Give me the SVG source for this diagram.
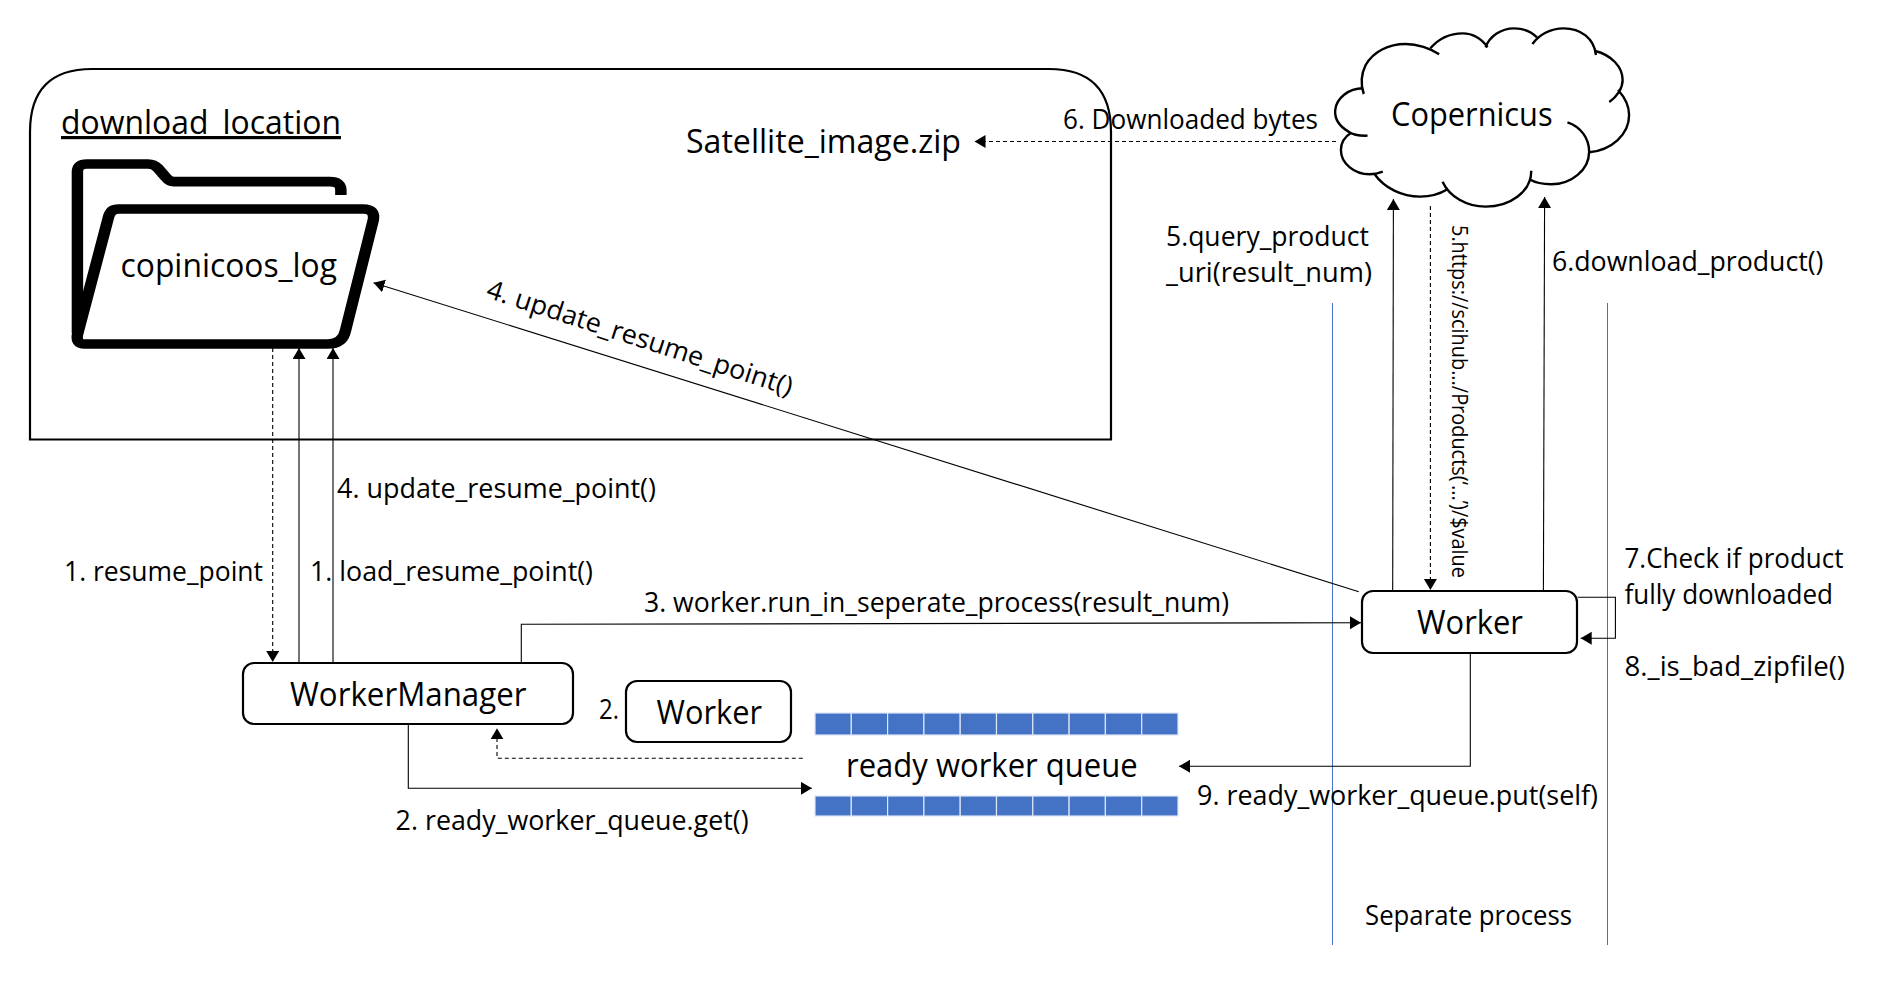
<svg xmlns="http://www.w3.org/2000/svg" width="1877" height="982" viewBox="0 0 1877 982">
<style>
text{font-family:"Open Sans","Liberation Sans",sans-serif;fill:#000;font-variant-ligatures:none}
.b{font-size:32px}
.m{font-size:26.5px}
.l{fill:none;stroke:#000;stroke-width:1.1}
.a{marker-end:url(#ah)}
.d{stroke-dasharray:4 3}
.box{fill:#fff;stroke:#000;stroke-width:2.2}
.v{fill:none;stroke:#4472C4;stroke-width:1}
.c{fill:#4472C4;stroke:#DCE6F5;stroke-width:1.2}
</style>
<defs>
<marker id="ah" markerUnits="userSpaceOnUse" markerWidth="12" markerHeight="14" refX="11" refY="6.5" orient="auto"><path d="M0,0L11,6.5L0,13z" fill="#000"/></marker>
</defs>
<rect width="1877" height="982" fill="#fff"/>
<g id="download_location">
<path d="M30,439.5V132Q30,69 92,69H1049Q1111,69 1111,132V439.5Z" fill="none" stroke="#000" stroke-width="2.2"/>
<text class="b" x="61" y="134" textLength="280" lengthAdjust="spacingAndGlyphs" text-decoration="underline">download_location</text>
<text class="b" x="686" y="153" textLength="275" lengthAdjust="spacingAndGlyphs">Satellite_image.zip</text>
</g>
<g id="copinicoos_log">
<g transform="translate(0,40) scale(0.395,0.3333)" fill="none" stroke="#000" stroke-width="29" stroke-linejoin="round">
<path d="M196,880V395Q196,372 220,372H375Q390,372 400,385L420,412Q428,425 440,425H835Q863,425 863,450V465"/>
<path d="M300,507H920Q950,507 945,540L875,870Q868,912 830,912H215Q190,912 197,880L275,530Q280,507 300,507Z"/>
<path d="M196,740V880L215,800Z" fill="#000" stroke="none"/>
</g>
<text class="b" x="120.5" y="277" textLength="216.5" lengthAdjust="spacingAndGlyphs">copinicoos_log</text>
</g>
<g id="copernicus">
<g transform="translate(1280,0) scale(0.3807,0.3333)" fill="none" stroke="#000" stroke-width="2.4">
<path vector-effect="non-scaling-stroke" d="M230,407C205,408 190,403 180,395C155,378 143,355 145,330C148,295 180,265 218,265"/>
<path vector-effect="non-scaling-stroke" d="M220,282C212,255 212,225 225,195C245,155 285,132 330,132C360,132 395,145 418,163"/>
<path vector-effect="non-scaling-stroke" d="M395,145C415,118 445,100 480,100C505,100 530,115 545,142"/>
<path vector-effect="non-scaling-stroke" d="M540,142C550,110 580,85 615,85C640,85 660,95 675,112"/>
<path vector-effect="non-scaling-stroke" d="M663,132C680,105 710,85 745,85C790,85 825,115 830,165"/>
<path vector-effect="non-scaling-stroke" d="M828,153C870,165 900,200 900,240C900,265 885,290 865,306"/>
<path vector-effect="non-scaling-stroke" d="M888,270C908,295 917,320 917,345C917,405 870,450 812,457"/>
<path vector-effect="non-scaling-stroke" d="M755,367C790,380 812,415 812,455C812,510 765,553 712,553C690,553 670,548 655,538"/>
<path vector-effect="non-scaling-stroke" d="M660,512C660,575 605,620 540,620C490,620 445,590 427,545"/>
<path vector-effect="non-scaling-stroke" d="M440,568C420,582 395,590 368,590C320,590 275,565 248,522"/>
<path vector-effect="non-scaling-stroke" d="M270,515C255,522 245,523 235,523C195,523 160,490 160,450C160,430 170,410 187,398"/>
</g>
<text class="b" x="1391" y="126" textLength="161.6" lengthAdjust="spacingAndGlyphs">Copernicus</text>
</g>
<g id="worker_manager">
<rect class="box" x="243" y="663" width="330" height="61" rx="11"/>
<text class="b" x="290" y="706" textLength="236.5" lengthAdjust="spacingAndGlyphs">WorkerManager</text>
</g>
<g id="worker_small">
<rect class="box" x="626" y="681" width="165" height="61" rx="11"/>
<text class="b" x="656.5" y="724" textLength="105.5" lengthAdjust="spacingAndGlyphs">Worker</text>
</g>
<g id="worker_process">
<rect class="box" x="1362" y="591" width="215" height="62" rx="11"/>
<text class="b" x="1417" y="634" textLength="106" lengthAdjust="spacingAndGlyphs">Worker</text>
</g>
<g id="ready_worker_queue">
<g id="queue_top">
<rect class="c" x="815" y="713" width="36.3" height="22"/><rect class="c" x="851.3" y="713" width="36.3" height="22"/><rect class="c" x="887.6" y="713" width="36.3" height="22"/><rect class="c" x="923.9" y="713" width="36.3" height="22"/><rect class="c" x="960.2" y="713" width="36.3" height="22"/><rect class="c" x="996.5" y="713" width="36.3" height="22"/><rect class="c" x="1032.8" y="713" width="36.3" height="22"/><rect class="c" x="1069.1" y="713" width="36.3" height="22"/><rect class="c" x="1105.4" y="713" width="36.3" height="22"/><rect class="c" x="1141.7" y="713" width="36.3" height="22"/>
</g>
<g id="queue_bottom">
<rect class="c" x="815" y="796" width="36.3" height="20"/><rect class="c" x="851.3" y="796" width="36.3" height="20"/><rect class="c" x="887.6" y="796" width="36.3" height="20"/><rect class="c" x="923.9" y="796" width="36.3" height="20"/><rect class="c" x="960.2" y="796" width="36.3" height="20"/><rect class="c" x="996.5" y="796" width="36.3" height="20"/><rect class="c" x="1032.8" y="796" width="36.3" height="20"/><rect class="c" x="1069.1" y="796" width="36.3" height="20"/><rect class="c" x="1105.4" y="796" width="36.3" height="20"/><rect class="c" x="1141.7" y="796" width="36.3" height="20"/>
</g>
<text class="b" x="846" y="776.5" textLength="291.7" lengthAdjust="spacingAndGlyphs">ready worker queue</text>
</g>
<g id="process_bounds">
<path class="v" d="M1332.5,303V945"/>
<path class="v" d="M1607.5,303V945"/>
</g>
<g id="connectors">
<path class="l a d" d="M272.7,348V662"/>
<path class="l a" d="M299,662V348"/>
<path class="l a" d="M333,662V348"/>
<path class="l a" d="M1358.8,591.7L373.5,282.7"/>
<path class="l a d" d="M1336,141.5H974.5"/>
<path class="l a" d="M1392.7,591L1393.4,199"/>
<path class="l a" d="M1543.4,591L1544.6,197"/>
<path class="l a d" d="M1430.4,206V590"/>
<path class="l a" d="M1577.7,597.3H1615.4V638.3H1580.7"/>
<path class="l a" d="M1470.3,653V766.3H1179"/>
<path class="l a" d="M521.3,662V624.3L1361,622.7"/>
<path class="l a d" d="M802.8,758.3H497V728.3"/>
<path class="l a" d="M408.3,724V788.3H811.9"/>
</g>
<g id="labels">
<text class="m" x="1063" y="128.5" textLength="255" lengthAdjust="spacingAndGlyphs">6. Downloaded bytes</text>
<text class="m" transform="translate(485,297) rotate(18)" textLength="320" lengthAdjust="spacingAndGlyphs">4. update_resume_point()</text>
<text class="m" x="1166" y="246" textLength="203" lengthAdjust="spacingAndGlyphs">5.query_product</text>
<text class="m" x="1166" y="282" textLength="206" lengthAdjust="spacingAndGlyphs">_uri(result_num)</text>
<text class="m" x="1552" y="270.5" textLength="271.5" lengthAdjust="spacingAndGlyphs">6.download_product()</text>
<text style="font-size:21px" transform="translate(1452,225) rotate(90)" textLength="353" lengthAdjust="spacingAndGlyphs">5.https://scihub.../Products(‘...’)/$value</text>
<text class="m" x="1624.5" y="567.5" textLength="219" lengthAdjust="spacingAndGlyphs">7.Check if product</text>
<text class="m" x="1624.5" y="604" textLength="208.5" lengthAdjust="spacingAndGlyphs">fully downloaded</text>
<text class="m" x="1624.5" y="676" textLength="220.5" lengthAdjust="spacingAndGlyphs">8._is_bad_zipfile()</text>
<text class="m" x="1197" y="804.5" textLength="401" lengthAdjust="spacingAndGlyphs">9. ready_worker_queue.put(self)</text>
<text class="m" x="644" y="612" textLength="585" lengthAdjust="spacingAndGlyphs">3. worker.run_in_seperate_process(result_num)</text>
<text class="m" x="64" y="581" textLength="199" lengthAdjust="spacingAndGlyphs">1. resume_point</text>
<text class="m" x="310" y="581" textLength="283" lengthAdjust="spacingAndGlyphs">1. load_resume_point()</text>
<text class="m" x="337" y="498" textLength="319" lengthAdjust="spacingAndGlyphs">4. update_resume_point()</text>
<text class="m" x="599" y="719" textLength="20" lengthAdjust="spacingAndGlyphs">2.</text>
<text class="m" x="395.6" y="830" textLength="353" lengthAdjust="spacingAndGlyphs">2. ready_worker_queue.get()</text>
<text class="m" x="1365" y="925" textLength="207" lengthAdjust="spacingAndGlyphs">Separate process</text>
</g>
</svg>
